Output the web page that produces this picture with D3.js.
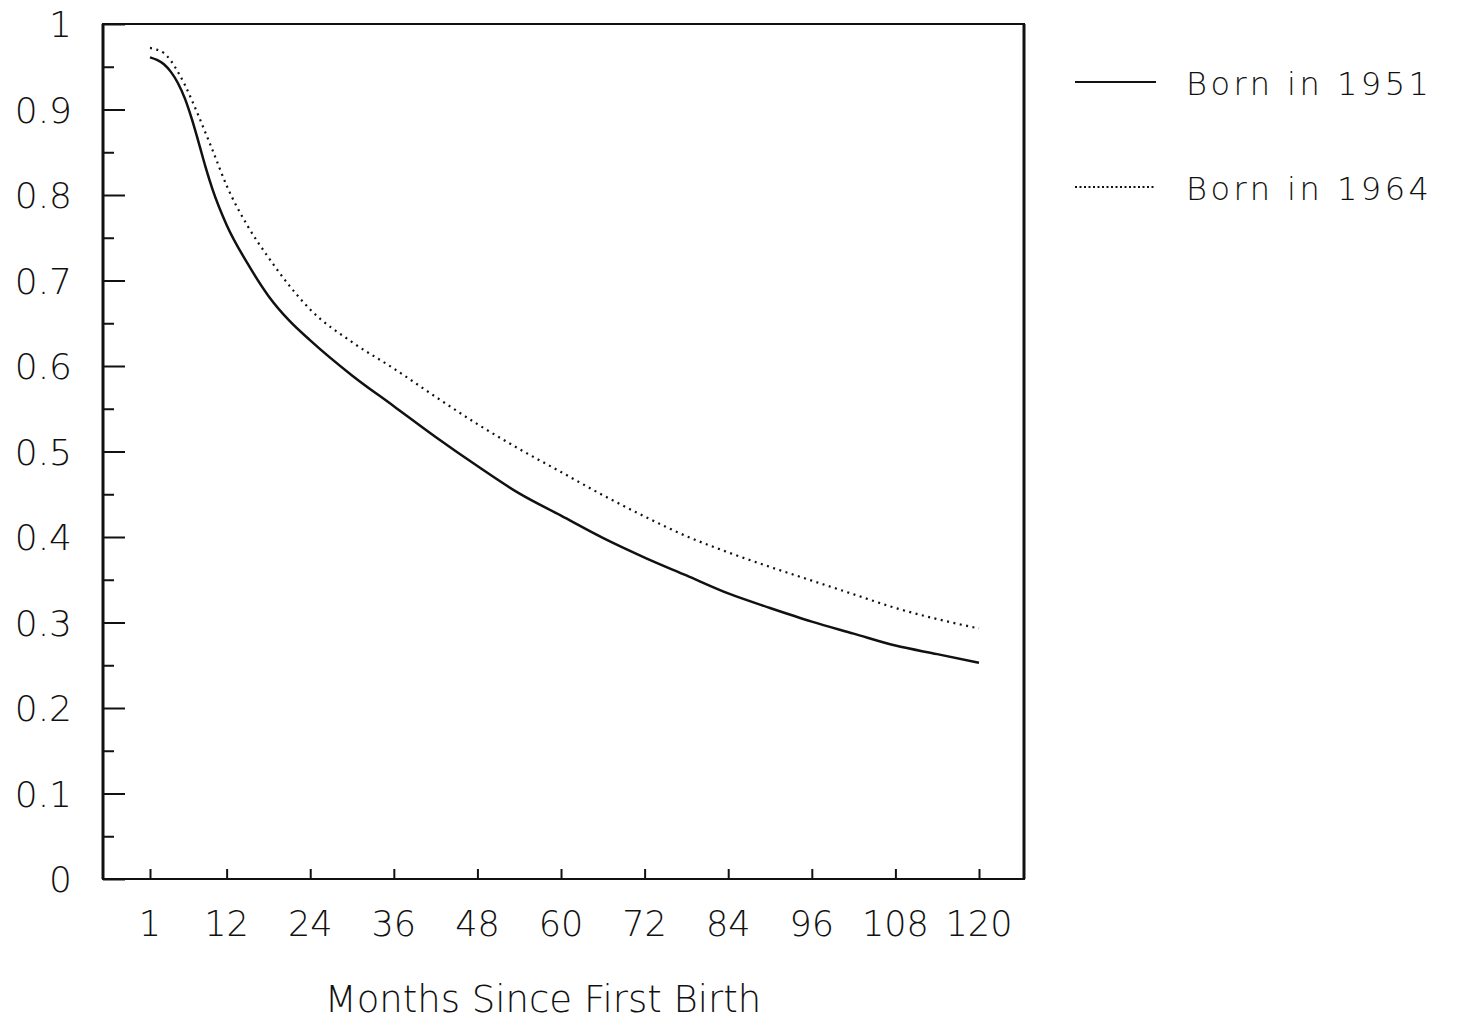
<!DOCTYPE html>
<html>
<head>
<meta charset="utf-8">
<script src="https://cdn.jsdelivr.net/npm/d3@7/dist/d3.min.js"></script>
<style>
	body { margin: 0; background: #fff; }
	text { font-family: "DejaVu Sans", sans-serif; font-weight: 200; fill: #111; }
</style>
</head>
<body>
<div class="chart"></div>
<script>
// months since first birth and proportion for each cohort
const months = [1, 2, 3, 4, 5, 6, 7, 8, 9, 10, 12, 15, 18, 21, 24, 30, 36, 42, 48, 54, 60, 66, 72, 78, 84, 90, 96, 102, 108, 114, 120]
const born1951 = [0.961, 0.958, 0.953, 0.944, 0.931, 0.913, 0.889, 0.861, 0.832, 0.806, 0.765, 0.72, 0.682, 0.653, 0.63, 0.589, 0.553, 0.517, 0.483, 0.451, 0.425, 0.399, 0.376, 0.355, 0.334, 0.317, 0.301, 0.287, 0.273, 0.263, 0.253]
const born1964 = [0.972, 0.97, 0.966, 0.957, 0.944, 0.929, 0.911, 0.892, 0.872, 0.852, 0.811, 0.764, 0.727, 0.694, 0.666, 0.628, 0.597, 0.564, 0.532, 0.503, 0.476, 0.449, 0.424, 0.401, 0.382, 0.365, 0.349, 0.333, 0.317, 0.304, 0.293]
const xTicks = [1, 12, 24, 36, 48, 60, 72, 84, 96, 108, 120]
const yTicks = [0, 0.1, 0.2, 0.3, 0.4, 0.5, 0.6, 0.7, 0.8, 0.9, 1]
const yMinor = [0.05, 0.15, 0.25, 0.35, 0.45, 0.55, 0.65, 0.75, 0.85, 0.95]
const seriesNames = ['Born in 1951', 'Born in 1964']
const xTitle = 'Months Since First Birth'

const W = 1471, H = 1021
const plotL = 103, plotR = 1024, plotT = 24, plotB = 879

const x = d3.scaleLinear().domain([1, 120]).range([150, 979])
const y = d3.scaleLinear().domain([0, 1]).range([plotB, plotT])

const svg = d3.select('.chart').append('svg')
	.attr('width', W)
	.attr('height', H)

// frame
svg.append('rect')
	.attr('x', plotL).attr('y', plotT)
	.attr('width', plotR - plotL).attr('height', plotB - plotT)
	.attr('fill', 'none').attr('stroke', '#111').attr('stroke-width', 2)
svg.append('line')
	.attr('x1', plotL).attr('x2', plotL).attr('y1', plotT).attr('y2', plotB)
	.attr('stroke', '#111').attr('stroke-width', 3)
svg.append('line')
	.attr('x1', plotR).attr('x2', plotR).attr('y1', plotT).attr('y2', plotB)
	.attr('stroke', '#111').attr('stroke-width', 3)

// y axis: ticks inside the frame, labels outside
const yAxis = d3.axisRight(y).tickValues(yTicks).tickSize(22).tickFormat('')
const gy = svg.append('g').attr('transform', `translate(${plotL},0)`).call(yAxis)
gy.select('.domain').remove()
gy.selectAll('.tick line').attr('stroke', '#111').attr('stroke-width', 2)

const yAxisMinor = d3.axisRight(y).tickValues(yMinor).tickSize(11).tickFormat('')
const gym = svg.append('g').attr('transform', `translate(${plotL},0)`).call(yAxisMinor)
gym.select('.domain').remove()
gym.selectAll('.tick line').attr('stroke', '#111').attr('stroke-width', 2)

svg.selectAll('.ylab')
	.data(yTicks)
	.enter().append('text')
	.attr('class', 'ylab')
	.attr('x', 72)
	.attr('y', d => y(d) + 13)
	.attr('text-anchor', 'end')
	.attr('font-size', 36)
	.text(d => d === 0 || d === 1 ? d : d3.format('.1f')(d))

// x axis
const xAxis = d3.axisTop(x).tickValues(xTicks).tickSize(10).tickFormat('')
const gx = svg.append('g').attr('transform', `translate(0,${plotB})`).call(xAxis)
gx.select('.domain').remove()
gx.selectAll('.tick line').attr('stroke', '#111').attr('stroke-width', 2)

svg.selectAll('.xlab')
	.data(xTicks)
	.enter().append('text')
	.attr('class', 'xlab')
	.attr('x', d => x(d))
	.attr('y', 936)
	.attr('text-anchor', 'middle')
	.attr('font-size', 35)
	.text(d => d)

svg.append('text')
	.attr('x', 543)
	.attr('y', 1012)
	.attr('text-anchor', 'middle')
	.attr('font-size', 37)
	.text(xTitle)

// curves
const line = vals => d3.line()
	.x((d, i) => x(months[i]))
	.y(d => y(d))
	.curve(d3.curveMonotoneX)(vals)

svg.append('path')
	.attr('d', line(born1951))
	.attr('fill', 'none').attr('stroke', '#111').attr('stroke-width', 2.5)

svg.append('path')
	.attr('d', line(born1964))
	.attr('fill', 'none').attr('stroke', '#111').attr('stroke-width', 2.2)
	.attr('stroke-dasharray', '2,4.5')

// legend
const legend = [
	{ name: seriesNames[0], dash: null, ly: 82 },
	{ name: seriesNames[1], dash: '2,2.5', ly: 187 }
]
legend.forEach(l => {
	svg.append('line')
		.attr('x1', 1075).attr('x2', 1156)
		.attr('y1', l.ly).attr('y2', l.ly)
		.attr('stroke', '#111').attr('stroke-width', l.dash ? 1.8 : 2)
		.attr('stroke-dasharray', l.dash)
	svg.append('text')
		.attr('x', 1186)
		.attr('y', l.ly + 13)
		.attr('font-size', 32)
		.attr('letter-spacing', 3.5)
		.text(l.name)
})
</script>
</body>
</html>
